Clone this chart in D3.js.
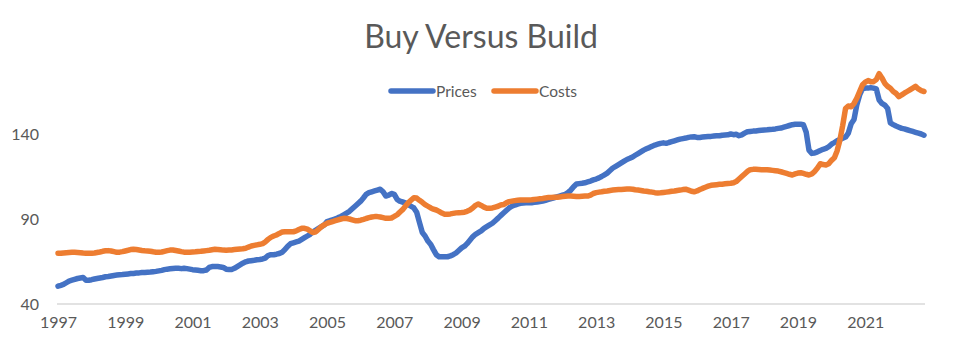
<!DOCTYPE html>
<html>
<head>
<meta charset="utf-8">
<script src="https://cdn.jsdelivr.net/npm/d3@7"></script>
<style>
  body { margin: 0; background: #fff; }
  svg text { font-family: Lato, "Open Sans", sans-serif; fill: #595959; }
</style>
</head>
<body>
<div id="chart"></div>
<script>
// monthly index values, Jan 1997 .. Oct 2022
var prices = [
  50.5, 51, 51.5, 52.5, 53.5, 54, 54.5, 55, 55.3, 55.6, 54, 54,            // 1997
  54.3, 54.7, 55, 55.3, 55.6, 56, 56.2, 56.5, 56.8, 57, 57.2, 57.3,        // 1998
  57.5, 57.7, 57.9, 58, 58.2, 58.3, 58.5, 58.6, 58.7, 58.8, 59, 59.2,      // 1999
  59.5, 59.8, 60.2, 60.5, 60.7, 60.9, 61, 61, 60.8, 61, 60.8, 60.5,        // 2000
  60.2, 60, 59.8, 59.6, 59.6, 60, 61.5, 62, 62, 62, 61.8, 61.5,            // 2001
  60.5, 60.3, 60.3, 61, 62, 63, 64, 64.8, 65.3, 65.5, 65.7, 66,            // 2002
  66.2, 66.5, 67, 68.5, 69, 69, 69.3, 69.7, 70.5, 72, 74, 75.5,            // 2003
  76, 76.5, 77, 78, 79, 80, 81, 82.5, 83.5, 84.5, 85.5, 86.5,              // 2004
  88.5, 89, 89.5, 90, 90.8, 91.5, 92.5, 93.5, 94.5, 96, 97.5, 99,          // 2005
  100.5, 102.5, 104.5, 105.5, 106, 106.5, 107, 107.5, 106, 103.5, 104, 105, // 2006
  104.5, 101.5, 100.5, 100, 99.5, 98.5, 97.5, 96.5, 94, 88, 82, 80,        // 2007
  77, 75, 72, 69, 67.8, 67.8, 67.8, 67.8, 68.3, 69, 70, 71.5,              // 2008
  73, 74, 75.5, 77.5, 79.5, 81, 82, 83, 84.5, 85.5, 86.5, 87.5,            // 2009
  89, 90.5, 92, 93.5, 95, 96.5, 97.5, 98.2, 98.8, 99.2, 99.4, 99.5,        // 2010
  99.5, 99.6, 99.8, 100, 100.3, 100.6, 101, 101.5, 102, 102.5, 103, 103.5, // 2011
  104, 104.5, 105.5, 107, 109, 110.6, 110.8, 111, 111.3, 111.8, 112.3, 113, // 2012
  113.5, 114.2, 115, 116, 117, 118.5, 120, 121, 122, 123, 124, 125,        // 2013
  125.7, 126.5, 127.5, 128.5, 129.5, 130.5, 131.3, 132, 132.8, 133.5, 134, 134.5, // 2014
  134.8, 134.5, 135, 135.5, 136, 136.5, 137, 137.3, 137.6, 138, 138.3, 138.4, // 2015
  138, 138, 138.2, 138.4, 138.5, 138.6, 138.8, 139, 139, 139.3, 139.4, 139.5, // 2016
  140, 139.6, 139.8, 139, 139.5, 140.5, 141.3, 141.5, 141.7, 141.8, 142, 142.2, // 2017
  142.4, 142.5, 142.7, 142.8, 143, 143.3, 143.5, 144, 144.5, 145, 145.5, 145.7, // 2018
  145.7, 145.7, 145.5, 141, 130.5, 128.6, 128.8, 129.5, 130.3, 131, 131.5, 132.5, // 2019
  134, 135, 136, 136.8, 137.5, 138.2, 140.5, 146, 148.5, 157, 163, 166.5,  // 2020
  167, 167, 167.3, 167, 166.5, 160, 158, 157, 155, 146.5, 145.5, 144.7,    // 2021
  144, 143.3, 143, 142.5, 142, 141.5, 141, 140.5, 140, 139.3                // 2022
];

var costs = [
  69.8, 69.8, 70, 70.2, 70.3, 70.4, 70.4, 70.3, 70.2, 70, 69.9, 69.8,      // 1997
  69.8, 70, 70.3, 70.6, 71, 71.3, 71.4, 71.2, 70.8, 70.4, 70.5, 70.8,      // 1998
  71.2, 71.6, 72, 72.2, 72.1, 71.8, 71.5, 71.3, 71.2, 71, 70.7, 70.5,      // 1999
  70.4, 70.6, 71, 71.4, 71.7, 71.8, 71.5, 71.2, 70.8, 70.5, 70.4, 70.5,    // 2000
  70.6, 70.7, 70.9, 71, 71.2, 71.4, 71.6, 71.9, 72.2, 72.1, 71.9, 71.7,    // 2001
  71.6, 71.7, 71.8, 72, 72.2, 72.4, 72.5, 72.8, 73.5, 74.1, 74.5, 74.8,    // 2002
  75.1, 75.5, 76.5, 78, 79.2, 80, 80.6, 81.5, 82.3, 82.5, 82.5, 82.5,      // 2003
  82.5, 83, 83.8, 84.5, 84.5, 84, 83, 82, 82.5, 84, 85.5, 86.5,            // 2004
  87.5, 88, 88.5, 89, 89.5, 90, 90.4, 90.3, 90, 89.5, 89, 89,              // 2005
  89.3, 89.8, 90.3, 90.8, 91.2, 91.4, 91.4, 91.2, 90.8, 90.4, 90.4, 90.6,  // 2006
  91.5, 92.5, 94, 95.5, 97.5, 99.5, 101, 102.5, 102.3, 101, 99.8, 98.5,    // 2007
  97.5, 96.5, 95.8, 95.3, 94.5, 93.5, 92.8, 92.8, 93, 93.3, 93.6, 93.7,    // 2008
  93.8, 94, 94.5, 95.3, 96.5, 98, 98.8, 98, 97, 96.3, 96.3, 96.5,          // 2009
  97, 97.5, 98.2, 98.5, 99.5, 100.2, 100.5, 100.8, 101, 101.2, 101.2, 101.2, // 2010
  101.2, 101.3, 101.5, 101.7, 101.9, 102.1, 102.4, 102.6, 102.7, 102.8, 102.8, 103, // 2011
  103.2, 103.4, 103.5, 103.5, 103.4, 103.3, 103.3, 103.4, 103.5, 103.5, 104, 105, // 2012
  105.5, 105.8, 106, 106.3, 106.5, 106.8, 107, 107.2, 107.3, 107.4, 107.5, 107.6, // 2013
  107.6, 107.5, 107.2, 107, 106.8, 106.5, 106.3, 106, 105.8, 105.5, 105.3, 105.4, // 2014
  105.6, 105.8, 106, 106.3, 106.5, 106.8, 107, 107.3, 107.5, 107, 106.3, 106, // 2015
  106.5, 107.3, 108, 108.7, 109.3, 109.8, 110, 110.2, 110.4, 110.5, 110.7, 110.9, // 2016
  111, 111.3, 112, 113.5, 115, 116.5, 118, 119, 119.2, 119.2, 119.1, 119,  // 2017
  119, 119, 118.8, 118.6, 118.4, 118.2, 117.8, 117.3, 116.8, 116.3, 115.9, 116.5, // 2018
  117, 117.2, 116.8, 116.3, 115.9, 116.5, 118, 120, 122.5, 122, 121.8, 122.5, // 2019
  124.5, 126, 130, 136.5, 145, 155, 156.5, 156, 158, 161, 165, 168.8,      // 2020
  170.5, 171.4, 170.8, 170.8, 172, 175.5, 173, 169.8, 168, 166.9, 165, 163.9, // 2021
  162, 163, 164, 165, 166, 167, 168, 166.5, 165.5, 165                      // 2022
];

var yTicks = [40, 90, 140];
var xTickYears = [1997, 1999, 2001, 2003, 2005, 2007, 2009, 2011, 2013, 2015, 2017, 2019, 2021];
var seriesNames = ["Prices", "Costs"];
var colors = ["#4472C4", "#ED7D31"];

var width = 964, height = 342;
var svg = d3.select("#chart").append("svg")
    .attr("width", width)
    .attr("height", height);

var months = prices.map(function(d, i) { return new Date(1997, i, 1); });

var x = d3.scaleTime()
    .domain([months[0], months[months.length - 1]])
    .range([58, 924]);
var y = d3.scaleLinear()
    .domain([40, 190])
    .range([304, 49]);

// title
svg.append("text")
    .attr("x", 481).attr("y", 48)
    .attr("text-anchor", "middle")
    .style("font-size", "32px")
    .text("Buy Versus Build");

// legend
var legend = svg.selectAll("g.legend")
    .data(seriesNames)
    .enter().append("g")
    .attr("class", "legend")
    .attr("transform", function(d, i) { return "translate(" + (391 + i * 103) + ",91)"; });
legend.append("line")
    .attr("x1", 0).attr("x2", 42)
    .attr("stroke", function(d, i) { return colors[i]; })
    .attr("stroke-width", 5.5)
    .attr("stroke-linecap", "round");
legend.append("text")
    .attr("x", 45).attr("y", 5.5)
    .style("font-size", "15.5px")
    .text(function(d) { return d; });

// y axis labels
svg.selectAll("text.ytick")
    .data(yTicks)
    .enter().append("text")
    .attr("class", "ytick")
    .attr("x", 39)
    .attr("y", function(d) { return y(d) + 5.5; })
    .attr("text-anchor", "end")
    .style("font-size", "16px")
    .text(function(d) { return d; });

// x axis
var xAxis = d3.axisBottom(x)
    .tickValues(xTickYears.map(function(yr) { return new Date(yr, 0, 1); }))
    .tickFormat(d3.timeFormat("%Y"))
    .tickSize(0)
    .tickPadding(13);
var gx = svg.append("g")
    .attr("transform", "translate(0," + y(40) + ")")
    .call(xAxis);
gx.select(".domain").remove();
gx.selectAll("text")
    .style("font-size", "16px")
    .style("font-family", "Lato, 'Open Sans', sans-serif")
    .attr("fill", "#595959");

svg.append("line")
    .attr("x1", 57).attr("x2", 925)
    .attr("y1", y(40)).attr("y2", y(40))
    .attr("stroke", "#d9d9d9")
    .attr("stroke-width", 1.5);

// lines
var line = d3.line()
    .x(function(d, i) { return x(months[i]); })
    .y(function(d) { return y(d); });

svg.selectAll("path.series")
    .data([prices, costs])
    .enter().append("path")
    .attr("class", "series")
    .attr("d", line)
    .attr("fill", "none")
    .attr("stroke", function(d, i) { return colors[i]; })
    .attr("stroke-width", 5.5)
    .attr("stroke-linejoin", "round")
    .attr("stroke-linecap", "round");
</script>
</body>
</html>
